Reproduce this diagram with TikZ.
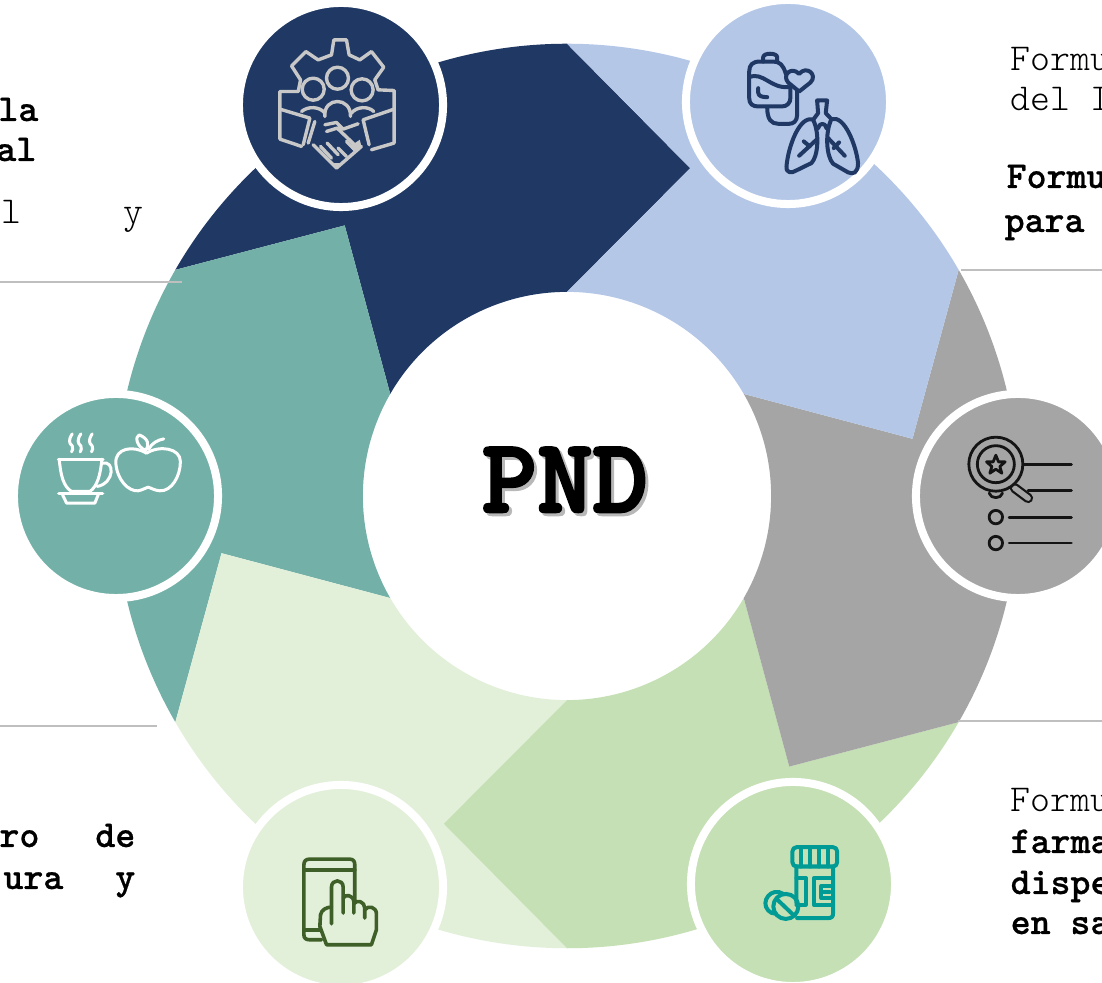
\documentclass[tikz,border=0pt]{standalone}
\usepackage{fontspec}
\newfontfamily\pndfont[FakeBold=2.5]{Latin Modern Mono Light}
\newfontfamily\lightfont{Latin Modern Mono Light}
\newfontfamily\heavyfont[FakeBold=0.6]{Latin Modern Mono Light}
\usetikzlibrary{calc}
\definecolor{navyseg}{HTML}{1F3864}
\definecolor{blueseg}{HTML}{B4C7E7}
\definecolor{grayseg}{HTML}{A5A5A5}
\definecolor{midgreen}{HTML}{C5E0B4}
\definecolor{palegreen}{HTML}{E2F0D9}
\definecolor{tealseg}{HTML}{73B1A8}
\definecolor{pillteal}{HTML}{009B95}
\definecolor{handgreen}{HTML}{3F5F28}
\definecolor{rulegray}{HTML}{BFBFBF}
\definecolor{gearline}{HTML}{C8C8C8}
\tikzset{
  bubble/.style={circle,draw=white,line width=0.08cm,minimum size=2.04cm,inner sep=0pt},
  plain/.style={font=\lightfont\fontsize{10.8pt}{13pt}\selectfont,anchor=base west,inner sep=0pt},
  strong/.style={font=\heavyfont\bfseries\fontsize{10.8pt}{13pt}\selectfont,anchor=base west,inner sep=0pt},
  rulemark/.style={rulegray,line width=0.02cm},
  icon/.style={x=0.00333cm,y=-0.00333cm,line cap=round,line join=round},
}
\begin{document}
\begin{tikzpicture}[x=0.01cm,y=-0.01cm]
\useasboundingbox (0,0) rectangle (1102,983);
\clip (0,0) rectangle (1102,983);
\fill[white] (0,0) rectangle (1102,983);
\begin{scope}[shift={(567,496)}]
\foreach \col [count=\i] in {navyseg,tealseg,palegreen,midgreen,grayseg,blueseg} {
  \pgfmathsetmacro{\a}{30+60*\i}
  \fill[\col] (\a:4.52cm) arc[start angle=\a,delta angle=60,radius=4.52cm]
    -- (\a+39.4:3.5cm) -- (\a+60:2.04cm)
    arc[start angle=\a+60,delta angle=-60,radius=2.04cm]
    -- (\a-20.6:3.5cm) -- cycle;
}
\end{scope}
\draw[rulemark] (961,270) -- (1102,270);
\draw[rulemark] (958,721) -- (1102,721);
\draw[rulemark] (0,282) -- (182,282);
\draw[rulemark] (0,726) -- (157,726);
\node[bubble,fill=navyseg] (gente) at (341,105) {};
\node[bubble,fill=blueseg] (pulmon) at (788,102) {};
\node[bubble,fill=grayseg] (lista) at (1018,496) {};
\node[bubble,fill=midgreen] (frasco) at (793,884) {};
\node[bubble,fill=palegreen] (tablet) at (341,887) {};
\node[bubble,fill=tealseg] (taza) at (116,496) {};
% gente
\begin{scope}[shift={(230,0)},icon,draw=gearline,line width=0.034cm]
\draw (215,440) -- (150,418) -- (150,275) -- (205,275) -- (212,240) -- (185,198) -- (228,155) -- (265,180) -- (305,165) -- (312,120) -- (350,120) -- (358,165) -- (390,180) -- (425,155) -- (462,202) -- (435,240) -- (445,270) -- (493,272) -- (493,430) -- (425,450);
\draw (323,235) circle[radius=0.11cm] (250,268) circle[radius=0.11cm] (397,270) circle[radius=0.11cm];
\draw (150,328) -- (240,355) -- (220,435) (493,328) -- (400,360) -- (418,435) (255,365) -- (235,430);
\draw (285,350) .. controls (280,290) and (365,290) .. (362,350);
\draw (215,335) .. controls (235,318) and (270,320) .. (285,340) (365,340) .. controls (380,320) and (415,318) .. (432,335);
\draw (285,375) -- (320,368) -- (340,388) -- (385,372) (290,395) -- (322,385) -- (385,445);
\draw (250,435) -- (320,505) -- (395,440);
\draw (272,440) -- (305,475) (292,430) -- (325,465) (325,445) -- (350,470) (350,425) -- (375,450);
\fill[gearline] (305,490) -- (320,505) -- (335,490) -- cycle (360,440) -- (390,420) -- (395,440) -- (375,458) -- cycle;
\end{scope}
% pulmon
\begin{scope}[shift={(680,0)},icon,draw=navyseg,line width=0.04cm]
\draw (318,222) .. controls (310,195) and (300,185) .. (280,185) -- (240,185) .. controls (218,185) and (208,195) .. (208,215) -- (208,295) .. controls (208,312) and (218,320) .. (235,320) -- (305,320) .. controls (322,320) and (332,310) .. (332,292) -- (332,262);
\draw (250,185) -- (250,172) .. controls (250,158) and (292,158) .. (292,172) -- (292,185);
\draw (208,232) .. controls (250,215) and (270,265) .. (325,262);
\draw (235,265) -- (235,278) .. controls (235,288) and (245,292) .. (262,292);
\draw (358,275) -- (325,248) .. controls (305,225) and (335,198) .. (358,222) .. controls (380,195) and (415,225) .. (392,248) -- cycle;
\draw (352,272) -- (352,345) .. controls (352,365) and (340,372) .. (328,372) -- (295,372) .. controls (275,372) and (262,360) .. (262,322);
\draw (412,302) -- (442,302) (412,302) -- (415,340) -- (400,360) (442,302) -- (438,340) -- (455,358);
\draw (400,360) .. controls (360,345) and (325,440) .. (320,500) .. controls (318,520) and (335,522) .. (350,512) -- (395,490) .. controls (415,470) and (420,400) .. (400,360);
\draw (455,358) .. controls (495,345) and (530,440) .. (535,490) .. controls (535,520) and (520,525) .. (505,518) -- (460,492) .. controls (440,470) and (435,400) .. (455,358);
\draw (410,420) -- (358,468) (372,425) -- (390,440) (445,415) -- (495,468) (478,428) -- (462,445);
\draw (415,385) .. controls (418,368) and (438,368) .. (440,385);
\end{scope}
% lista
\begin{scope}[shift={(900,380)},icon,draw=black!92,line width=0.028cm]
\draw[line width=0.1cm] (345,325) -- (385,355);
\draw[grayseg,line width=0.055cm] (345,325) -- (385,355);
\fill[grayseg] (288,253) circle[radius=0.27cm];
\draw (288,253) circle[radius=0.27cm] (288,253) circle[radius=0.185cm];
\draw (288,226) -- (296,246) -- (316,246) -- (300,260) -- (306,280) -- (288,268) -- (270,280) -- (276,260) -- (260,246) -- (280,246) -- cycle;
\draw (268,340) .. controls (272,358) and (304,358) .. (308,340);
\draw (372,255) -- (515,255) (385,333) -- (515,333) (328,412) -- (515,412) (328,490) -- (515,490);
\draw (288,412) circle[radius=0.067cm] (288,490) circle[radius=0.067cm];
\end{scope}
% frasco
\begin{scope}[shift={(680,770)},icon,draw=pillteal,line width=0.04cm]
\draw[rounded corners=0.04cm] (338,232) rectangle (472,290);
\draw (365,232) -- (365,290) (392,232) -- (392,290) (418,232) -- (418,290) (445,232) -- (445,290);
\draw (350,290) -- (350,400) (460,290) -- (460,430) .. controls (460,442) and (455,445) .. (445,445) -- (352,445);
\draw (350,325) -- (378,325) -- (378,405) -- (350,405);
\draw (460,325) -- (402,325) -- (402,405) -- (460,405);
\draw (460,348) -- (425,348) -- (425,385) -- (460,385) (425,367) -- (450,367);
\draw (318,410) circle[radius=0.125cm];
\draw (295,392) -- (340,435);
\draw (310,372) .. controls (275,350) and (240,395) .. (265,422) .. controls (270,428) and (278,432) .. (288,432);
\end{scope}
% tablet
\begin{scope}[shift={(230,770)},icon,draw=handgreen,line width=0.036cm]
\draw (275,510) -- (238,510) .. controls (228,510) and (222,505) .. (222,495) -- (222,285) .. controls (222,274) and (228,268) .. (238,268) -- (360,268) .. controls (370,268) and (375,274) .. (375,285) -- (375,395);
\draw (222,300) -- (375,300) (222,480) -- (272,480);
\draw (305,462) -- (305,352) .. controls (305,327) and (340,327) .. (340,352) -- (340,430);
\draw (340,385) .. controls (345,372) and (370,375) .. (372,395) -- (372,430);
\draw (372,402) .. controls (380,388) and (405,395) .. (405,415) -- (405,445);
\draw (405,420) .. controls (415,405) and (440,412) .. (440,432) -- (440,480) -- (425,525) -- (290,525) -- (270,470) -- (272,435) .. controls (275,420) and (290,412) .. (305,412);
\end{scope}
% taza
\begin{scope}[shift={(10,380)},icon,draw=white,line width=0.03cm]
\foreach \sx in {187,213,247} {
  \draw (\sx,162) .. controls (\sx-12,180) and (\sx-10,190) .. (\sx,198) .. controls (\sx+4,205) and (\sx,212) .. (\sx-2,216);
}
\draw (145,238) -- (280,238);
\draw (148,238) .. controls (152,285) and (160,320) .. (185,335) -- (240,335) .. controls (262,320) and (272,285) .. (276,238);
\draw (278,250) .. controls (315,240) and (315,310) .. (262,320);
\draw[line width=0.036cm] (147,341) -- (278,341);
\draw (158,345) -- (170,370) -- (255,370) -- (265,345);
\draw (410,220) .. controls (370,195) and (315,205) .. (318,250) .. controls (322,300) and (355,335) .. (385,333) .. controls (400,330) and (405,325) .. (415,322) .. controls (425,325) and (435,332) .. (450,333) .. controls (485,335) and (512,290) .. (512,245) .. controls (512,205) and (450,195) .. (410,220);
\draw (408,212) .. controls (380,200) and (375,170) .. (388,165) .. controls (415,175) and (420,195) .. (408,212);
\draw (417,208) .. controls (425,190) and (445,180) .. (462,177);
\end{scope}
\node[font=\pndfont\bfseries\fontsize{30pt}{30pt}\selectfont,text=black!28,inner sep=0pt,anchor=base] (sombra) at (568,515) {PND};
\node[font=\pndfont\bfseries\fontsize{30pt}{30pt}\selectfont,inner sep=0pt,anchor=base] (pnd) at (565,512) {PND};
\node[plain] (t1) at (1010,71) {Formu};
\node[plain] (t2) at (1010,111) {del I};
\node[strong] (t3) at (1006,188) {Formu};
\node[strong] (t4) at (1004,232) {para};
\node[plain] (t5) at (1010,812) {Formu};
\node[strong] (t6) at (1010,853) {farma};
\node[strong] (t7) at (1010,894) {dispe};
\node[strong] (t8) at (1010,934) {en sa};
\node[strong,anchor=base east] (t9) at (39,121) {la};
\node[strong,anchor=base east] (t10) at (37,161) {al};
\node[plain,anchor=base east] (t11) at (144,224) {l\hspace*{1.02cm}y};
\node[strong,anchor=base east] (t12) at (136,847) {ro\hspace*{0.56cm}de};
\node[strong,anchor=base east] (t13) at (136,889) {ura\hspace*{0.52cm}y};
\end{tikzpicture}
\end{document}
